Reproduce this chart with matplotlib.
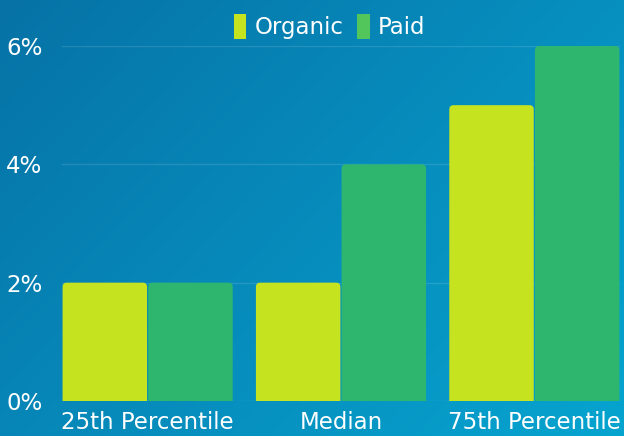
import matplotlib
matplotlib.use("Agg")
import matplotlib.pyplot as plt
from matplotlib.patches import FancyBboxPatch, Patch
import numpy as np

# Data
categories = ["25th Percentile", "Median", "75th Percentile"]
organic = [2, 2, 5]
paid = [2, 4, 6]
series_names = ["Organic", "Paid"]
y_ticks = [0, 2, 4, 6]

ORGANIC_COLOR = "#c5e41f"
PAID_COLOR = "#2eb66f"
PAID_LEGEND = "#52c65a"
FONT = "DejaVu Sans"

fig = plt.figure(figsize=(6.24, 4.36), dpi=100)

# background gradient (dark blue top-left -> lighter bottom-right)
bg = fig.add_axes([0, 0, 1, 1], zorder=-10)
gx, gy = np.meshgrid(np.linspace(0, 1, 200), np.linspace(0, 1, 200))
t = (gx * 0.6 + gy * 0.4)
c0 = np.array([0x06, 0x72, 0xa6]) / 255
c1 = np.array([0x06, 0xa4, 0xd0]) / 255
img = c0[None, None, :] * (1 - t[..., None]) + c1[None, None, :] * t[..., None]
bg.imshow(img, aspect="auto", extent=[0, 1, 0, 1])
bg.axis("off")

ax = fig.add_axes([62 / 624, (436 - 401) / 436, 558 / 624, 355 / 436])
ax.patch.set_alpha(0)

x = np.arange(len(categories))
bw = 0.443
ax.set_xlim(-0.443, len(categories) - 1 + 0.443)
ax.set_ylim(0, 6)

# rounded top bars
aspect = (355 / 6) / (558 / 2.886)
for vals, off, col in [(organic, -bw / 2, ORGANIC_COLOR), (paid, bw / 2, PAID_COLOR)]:
    for xi, v in zip(x, vals):
        left = xi + off - bw / 2 + 0.003
        p = FancyBboxPatch((left, -0.2), bw - 0.006, v + 0.2,
                           boxstyle="round,pad=0,rounding_size=0.022",
                           mutation_aspect=1 / aspect,
                           facecolor=col, edgecolor="none", zorder=3, clip_on=True)
        ax.add_patch(p)

ax.set_yticks(y_ticks)
ax.set_yticklabels([f"{v}%" for v in y_ticks])
ax.set_xticks(x)
ax.set_xticklabels(categories)
ax.tick_params(length=0, colors="white", labelsize=16.5)
ax.tick_params(axis="y", pad=14)
ax.tick_params(axis="x", pad=7.5)
for lbl in ax.get_xticklabels() + ax.get_yticklabels():
    lbl.set_fontfamily(FONT)
for s in ax.spines.values():
    s.set_visible(False)
ax.grid(axis="y", color="white", alpha=0.12, linewidth=1, zorder=0)
ax.set_axisbelow(True)

handles = [Patch(facecolor=ORGANIC_COLOR), Patch(facecolor=PAID_LEGEND)]
leg = fig.legend(handles, series_names, loc="upper center", bbox_to_anchor=(0.528, 1.015),
                 ncol=2, frameon=False, handlelength=0.55, handleheight=1.3,
                 handletextpad=0.35, columnspacing=0.6,
                 prop={"family": FONT, "size": 16.5})
for txt in leg.get_texts():
    txt.set_color("white")

fig.savefig("out.png", dpi=100)
